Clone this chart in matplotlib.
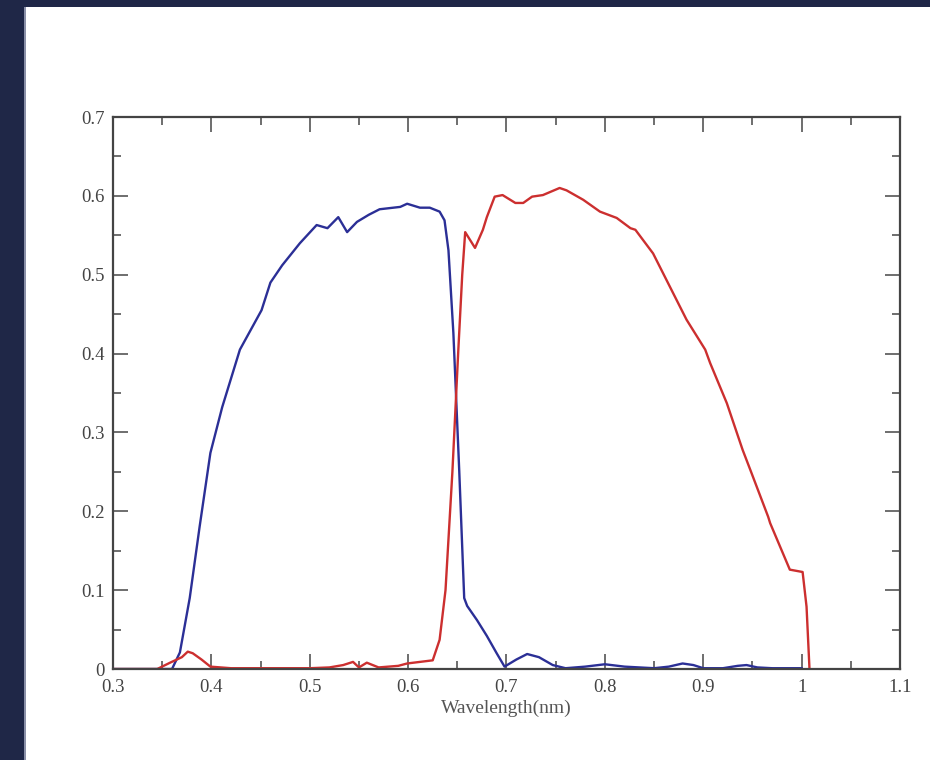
import matplotlib
matplotlib.use("Agg")
import matplotlib.pyplot as plt
from matplotlib.patches import Rectangle
from matplotlib.ticker import MultipleLocator

# ---- data ----
blue_wl = [0.30, 0.36, 0.368, 0.378, 0.388, 0.399, 0.411, 0.429, 0.451, 0.460,
           0.472, 0.490, 0.507, 0.518, 0.529, 0.538, 0.548, 0.560, 0.571, 0.592,
           0.599, 0.612, 0.622, 0.632, 0.637, 0.641, 0.646, 0.652, 0.657, 0.660,
           0.670, 0.680, 0.690, 0.698, 0.710, 0.721, 0.733, 0.747, 0.760, 0.780,
           0.800, 0.820, 0.850, 0.865, 0.879, 0.890, 0.900, 0.920, 0.935, 0.944,
           0.955, 0.970, 1.000]
blue_val = [0.0, 0.0, 0.021, 0.09, 0.18, 0.274, 0.332, 0.405, 0.455, 0.49,
            0.512, 0.540, 0.563, 0.559, 0.573, 0.554, 0.567, 0.576, 0.583, 0.586,
            0.590, 0.585, 0.585, 0.580, 0.569, 0.531, 0.426, 0.25, 0.09, 0.080,
            0.062, 0.042, 0.020, 0.003, 0.012, 0.019, 0.015, 0.005, 0.001, 0.003,
            0.006, 0.003, 0.001, 0.003, 0.007, 0.005, 0.001, 0.001, 0.004, 0.005,
            0.002, 0.001, 0.001]

red_wl = [0.30, 0.345, 0.358, 0.370, 0.376, 0.381, 0.390, 0.399, 0.420, 0.500,
          0.520, 0.534, 0.544, 0.550, 0.558, 0.570, 0.590, 0.599, 0.612, 0.625,
          0.632, 0.638, 0.645, 0.651, 0.655, 0.658, 0.668, 0.676, 0.680, 0.688,
          0.696, 0.709, 0.717, 0.726, 0.737, 0.754, 0.761, 0.778, 0.795, 0.812,
          0.826, 0.831, 0.849, 0.866, 0.883, 0.902, 0.907, 0.924, 0.940, 0.948,
          0.966, 0.968, 0.988, 1.001, 1.005, 1.008]
red_val = [0.0, 0.0, 0.008, 0.015, 0.022, 0.020, 0.012, 0.003, 0.001, 0.001,
           0.002, 0.005, 0.009, 0.002, 0.008, 0.002, 0.004, 0.007, 0.009, 0.011,
           0.037, 0.10, 0.25, 0.404, 0.50, 0.554, 0.534, 0.557, 0.573, 0.599,
           0.601, 0.591, 0.591, 0.599, 0.601, 0.610, 0.607, 0.595, 0.580, 0.572,
           0.559, 0.557, 0.527, 0.485, 0.443, 0.405, 0.388, 0.337, 0.278, 0.252,
           0.193, 0.185, 0.126, 0.123, 0.079, 0.0]

x_ticks = [0.3, 0.4, 0.5, 0.6, 0.7, 0.8, 0.9, 1.0, 1.1]
x_tick_labels = ["0.3", "0.4", "0.5", "0.6", "0.7", "0.8", "0.9", "1", "1.1"]
y_ticks = [0.0, 0.1, 0.2, 0.3, 0.4, 0.5, 0.6, 0.7]
y_tick_labels = ["0", "0.1", "0.2", "0.3", "0.4", "0.5", "0.6", "0.7"]
x_label = "Wavelength(nm)"

# ---- figure ----
W, H = 930, 760
fig = plt.figure(figsize=(W / 100, H / 100), dpi=100, facecolor="white")

# dark frame on the left and top
dark = "#1f2747"
fig.patches.append(Rectangle((0, 0), 24 / W, 1, transform=fig.transFigure,
                             facecolor=dark, edgecolor="none", zorder=0))
fig.patches.append(Rectangle((0, 1 - 7 / H), 1, 7 / H, transform=fig.transFigure,
                             facecolor=dark, edgecolor="none", zorder=0))
fig.patches.append(Rectangle((24 / W, 0), 1.5 / W, 1 - 7 / H, transform=fig.transFigure,
                             facecolor="#8a90a8", edgecolor="none", zorder=0))

left, right = 113 / W, 900 / W
bottom, top = 1 - 669 / H, 1 - 117 / H
ax = fig.add_axes([left, bottom, right - left, top - bottom])

ax.plot(blue_wl, blue_val, color="#2b2f96", lw=1.7, solid_joinstyle="round")
ax.plot(red_wl, red_val, color="#cc2f2f", lw=1.7, solid_joinstyle="round")

ax.set_xlim(0.3, 1.1)
ax.set_ylim(0.0, 0.7)

serif = ["Liberation Serif", "DejaVu Serif"]
ax.set_xticks(x_ticks)
ax.set_xticklabels(x_tick_labels, family=serif, fontsize=13.5, color="#444444")
ax.set_yticks(y_ticks)
ax.set_yticklabels(y_tick_labels, family=serif, fontsize=13.5, color="#444444")
ax.xaxis.set_minor_locator(MultipleLocator(0.05))
ax.yaxis.set_minor_locator(MultipleLocator(0.05))

ax.tick_params(which="both", direction="in", top=True, right=True,
               color="#555555", width=1.2)
ax.tick_params(which="major", length=11)
ax.tick_params(which="minor", length=5.5)
ax.tick_params(axis="x", which="major", pad=7)
ax.tick_params(axis="y", which="major", pad=6)

for s in ax.spines.values():
    s.set_color("#444444")
    s.set_linewidth(1.6)

ax.set_xlabel(x_label, family=serif, fontsize=14, color="#555555", labelpad=3)

fig.savefig("out.png", dpi=100, facecolor="white")
